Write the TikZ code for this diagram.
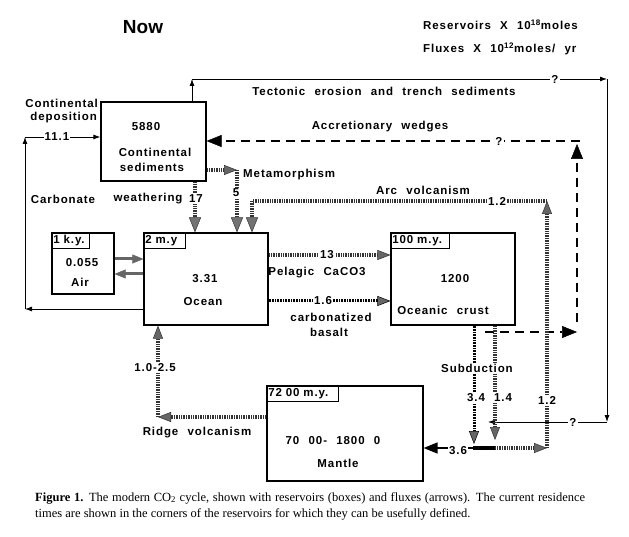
\documentclass[tikz,border=0pt]{standalone}
\usepackage{fontspec}
\setmainfont{Liberation Serif}
\newfontfamily\labfont{Liberation Sans}[LetterSpace=8,WordSpace=3.0]
\newfontfamily\labfontn{Liberation Sans}[LetterSpace=8,WordSpace=1.5]
\newfontfamily\titlefont{Liberation Sans}
\usetikzlibrary{arrows.meta}
\begin{document}
\begin{tikzpicture}[x=1pt,y=-1pt,
  lab/.style={font=\labfont\bfseries\fontsize{11.5}{13}\selectfont, inner sep=1pt},
  wlab/.style={lab, fill=white},
  box/.style={draw, line width=1.2pt, inner sep=0pt},
  tagbox/.style={draw, line width=0.9pt, anchor=north west, font=\labfontn\bfseries\fontsize{11.5}{13}\selectfont, inner sep=1.5pt, align=left, minimum height=16pt},
  thinflow/.style={line width=0.8pt, -{Latex[length=7pt,width=5pt]}},
  hatch/.style={line width=3.5pt, dash pattern=on 1.4pt off 1.0pt, black!80},
  ladder/.style={line width=3pt, dash pattern=on 0.7pt off 0.9pt},
  accr/.style={line width=2.8pt, dash pattern=on 9pt off 6pt},
  gflow/.style={line width=3pt, black!60, -{Triangle[length=11pt,width=9pt,line width=0.5pt]}},
  hh/.tip={Triangle[length=13pt,width=10pt,line width=0.5pt,fill=black!60]},
  chev/.tip={Triangle[length=15pt,width=12pt,line width=0.5pt,fill=black!55]},
  bigT/.tip={Triangle[length=15pt,width=12pt,line width=0.5pt,fill=black]},
]
\useasboundingbox (0,0) rectangle (629,537);

% ---------- reservoirs ----------
\node[box, minimum width=105pt, minimum height=79pt] (sed) at (153.5,141.5) {};
\node[box, minimum width=62pt, minimum height=61pt] (air) at (83,263.5) {};
\node[box, minimum width=124pt, minimum height=92pt] (ocean) at (206,279) {};
\node[box, minimum width=124pt, minimum height=92pt] (crust) at (453,279) {};
\node[box, minimum width=156pt, minimum height=95pt] (mantle) at (345,433.5) {};

\node[tagbox, text width=35pt] (airtag) at (air.north west) {1 k.y.};
\node[tagbox, text width=39pt] (oceantag) at (ocean.north west) {2 m.y};
\node[tagbox, text width=56pt] (crusttag) at (crust.north west) {100 m.y.};
\node[tagbox, text width=69pt] (mantletag) at (mantle.north west) {72 00 m.y.};

\node[lab] (sedval) at (146,127) {5880};
\node[lab] (sedname1) at (155,152) {Continental};
\node[lab] (sedname2) at (152,167) {sediments};
\node[lab] (airval) at (82,263) {0.055};
\node[lab] (airname) at (80,282) {Air};
\node[lab] (oceanval) at (205,279) {3.31};
\node[lab] (oceanname) at (203,302) {Ocean};
\node[lab] (crustval) at (455,279) {1200};
\node[lab] (crustname) at (443,310) {Oceanic crust};
\node[lab] (mantleval) at (333,441) {70 00- 1800 0};
\node[lab] (mantlename) at (338,463) {Mantle};

% ---------- headings ----------
\node[font=\titlefont\bfseries\fontsize{19}{22}\selectfont] (now) at (143,27) {Now};
\node[lab, anchor=west] (res) at (422,25) {Reservoirs X 10\textsuperscript{18}moles};
\node[lab, anchor=west] (flx) at (422,49) {Fluxes X 10\textsuperscript{12}moles/ yr};

% ---------- coordinates ----------
\coordinate (cd1) at (25,309);
\coordinate (cd2) at (25,137);
\coordinate (te1) at (192,79);
\coordinate (te2) at (607,79);
\coordinate (te3) at (607,422);
\coordinate (te4) at (488,422);
\coordinate (ac1) at (485,332);
\coordinate (ac2) at (577,332);
\coordinate (ac3) at (577,322);
\coordinate (ac4) at (577,144);
\coordinate (ac5) at (580,141);
\coordinate (cw) at (195,200);
\coordinate (mt1) at (237,170);
\coordinate (jn) at (473,448);
\coordinate (jn2) at (495,448);
\coordinate (av1) at (547,448);
\coordinate (av2) at (547,201);
\coordinate (av3) at (252,201);
\coordinate (sb1) at (474,444);
\coordinate (sb2) at (495,440);
\coordinate (pl) at (300,255);
\coordinate (cb) at (300,301);
\coordinate (rv1) at (158,417);
\coordinate (ao1) at (130,259);
\coordinate (ao2) at (130,274);

% ---------- thin flows ----------
\draw[thinflow] (ocean.west |- cd1) -- (cd1);
\draw[thinflow] (cd1) -- (cd2);
\draw[thinflow] (cd2) -- (sed.west |- cd2);
\draw[thinflow] (te1 |- sed.north) -- (te1);
\draw[thinflow] (te1) -- (te2);
\draw[thinflow] (te2) -- (te3);
\draw[thinflow] (te3) -- (te4);

% ---------- accretionary wedges ----------
\draw[accr, -{bigT}] (ac1) -- (ac2);
\draw[accr, -{bigT}] (ac3) -- (ac4);
\draw[accr, -{bigT}] (ac5) -- (sed.east |- ac5);

% ---------- air / ocean ----------
\draw[gflow] (air.east |- ao1) -- (ocean.west |- ao1);
\draw[gflow] (ocean.west |- ao2) -- (air.east |- ao2);

% ---------- hatched fluxes ----------
\draw[hatch, -{chev}] (cw |- sed.south) -- (cw |- ocean.north);
\draw[hatch, -{hh}] (sed.east |- mt1) -- (mt1);
\draw[hatch, -{chev}] (mt1) -- (mt1 |- ocean.north);
\draw[hatch, -{hh}] (jn) -- (av1);
\draw[hatch, -{hh}] (av1) -- (av2);
\draw[hatch] (av2) -- (av3);
\draw[hatch, -{chev}] (av3) -- (av3 |- ocean.north);
\draw[line width=4pt] (jn) -- (jn2);
\draw[line width=1.5pt, -{Triangle[length=14pt,width=11pt]}] (jn) -- (mantle.east |- jn);
\draw[ladder, -{hh}] (sb1 |- crust.south) -- (sb1);
\draw[hatch, -{hh}] (sb2 |- crust.south) -- (sb2);
\draw[hatch, -{hh}] (ocean.east |- pl) -- (crust.west |- pl);
\draw[ladder, -{hh}] (ocean.east |- cb) -- (crust.west |- cb);
\draw[hatch, -{hh}] (mantle.west |- rv1) -- (rv1);
\draw[hatch, -{hh}] (rv1) -- (rv1 |- ocean.south);

% ---------- flux labels ----------
\node[lab, anchor=east] (cdlab1) at (99,103) {Continental};
\node[lab, anchor=east] (cdlab2) at (98,118) {deposition};
\node[wlab] (cdval) at (57,137) {11.1};
\node[lab] (telab) at (384,91) {Tectonic erosion and trench sediments};
\node[wlab] (teq1) at (555,79) {?};
\node[wlab] (teq2) at (573,422) {?};
\node[lab] (aclab) at (380,127) {Accretionary wedges};
\node[wlab] (acq) at (499,141) {?};
\node[lab, anchor=west] (mtlab) at (242,175) {Metamorphism};
\node[wlab] (mtval) at (236,193) {5};
\node[lab] (cwlab1) at (63,199) {Carbonate};
\node[lab] (cwlab2) at (148,199) {weathering};
\node[wlab] (cwval) at (196,199) {17};
\node[lab] (avlab) at (423,190) {Arc volcanism};
\node[wlab] (avval1) at (497,201) {1.2};
\node[wlab] (avval2) at (547,400) {1.2};
\node[wlab] (plval) at (327,255) {13};
\node[lab, font=\labfontn\bfseries\fontsize{11.5}{13}\selectfont] (pllab) at (317,273) {Pelagic CaCO3};
\node[wlab] (cbval) at (323,301) {1.6};
\node[lab] (cblab1) at (331,317) {carbonatized};
\node[lab] (cblab2) at (329,332) {basalt};
\node[wlab] (rvval) at (155,368) {1.0-2.5};
\node[lab] (rvlab) at (197,433) {Ridge volcanism};
\node[wlab] (sblab) at (477,368) {Subduction};
\node[wlab] (sbval1) at (476,398) {3.4};
\node[wlab] (sbval2) at (503,398) {1.4};
\node[wlab] (mnval) at (458,451) {3.6};

% ---------- caption ----------
\node[anchor=north west, inner sep=0pt, text width=550pt, align=justify,
      font=\fontsize{12.5}{16}\selectfont] (cap) at (35,492)
  {\textbf{Figure 1.} The modern CO\textsubscript{2} cycle, shown with reservoirs (boxes) and fluxes (arrows). The current residence\linebreak times are shown in the corners of the reservoirs for which they can be usefully defined.};
\end{tikzpicture}
\end{document}
